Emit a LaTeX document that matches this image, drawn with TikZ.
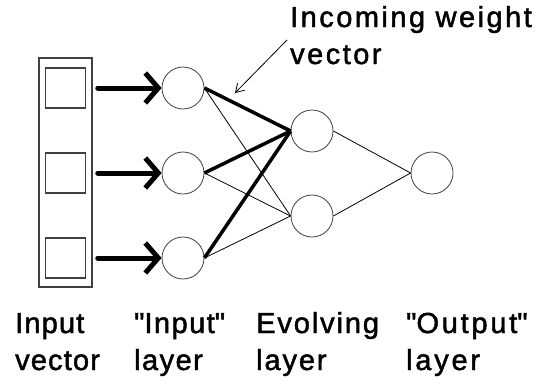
\documentclass[tikz,border=0pt]{standalone}
\usepackage{fontspec}
\setmainfont{Liberation Sans}
\usetikzlibrary{arrows.meta}
\begin{document}
\begin{tikzpicture}[x=1pt,y=-1pt,
  neuron/.style={circle,draw=black!75,line width=0.8pt,minimum size=42pt,inner sep=0pt},
  cell/.style={draw=black!75,line width=1.5pt,minimum size=40pt,inner sep=0pt},
  inarrow/.style={line width=5pt,line cap=round,-{Straight Barb[length=13pt,width=30pt,line width=5pt]}},
  strong/.style={line width=3.5pt},
  weak/.style={line width=0.8pt},
  lbl/.style={font=\fontsize{29}{37}\selectfont\addfontfeature{LetterSpace=#1,FakeBold=1.6},inner sep=0pt,anchor=base west,align=left},
  lbl/.default=5]
\useasboundingbox (0,0) rectangle (553,388);
\node[draw=black!75,line width=1.5pt,minimum width=53pt,minimum height=229pt,inner sep=0pt] (vec) at (65.5,172.5) {};
\node[cell] (c1) at (65.5,88) {};
\node[cell] (c2) at (65.5,173) {};
\node[cell] (c3) at (65.5,258) {};
\node[neuron] (i1) at (183,88) {};
\node[neuron] (i2) at (183,173) {};
\node[neuron] (i3) at (183,258) {};
\node[neuron] (e1) at (312,131) {};
\node[neuron] (e2) at (312,216) {};
\node[neuron] (o1) at (432,173) {};
\draw[inarrow] (vec.east |- c1) ++(5,0) -- (i1.west);
\draw[inarrow] (vec.east |- c2) ++(5,0) -- (i2.west);
\draw[inarrow] (vec.east |- c3) ++(5,0) -- (i3.west);
\draw[strong] (i1.east) -- (e1.west);
\draw[strong] (i2.east) -- (e1.west);
\draw[strong] (i3.east) -- (e1.west);
\draw[weak] (i1.east) -- (e2.west);
\draw[weak] (i2.east) -- (e2.west);
\draw[weak] (i3.east) -- (e2.west);
\draw[weak] (e1.east) -- (o1.west);
\draw[weak] (e2.east) -- (o1.west);
\node[lbl=8.5] (wv) at (290,64) {Incoming weight\\vector};
\coordinate (ptr) at (287,40);
\draw[weak,-{Straight Barb[length=8pt,width=10pt]}] (ptr) -- (235,93);
\node[lbl=4] (l1) at (15,370) {Input\\vector};
\node[lbl=5] (l2) at (134,370) {\textquotedbl Input\textquotedbl\\layer};
\node[lbl=6.5] (l3) at (256,370) {Evolving\\layer};
\node[lbl=9.5] (l4) at (406,370) {\textquotedbl Output\textquotedbl\\layer};
\end{tikzpicture}
\end{document}
